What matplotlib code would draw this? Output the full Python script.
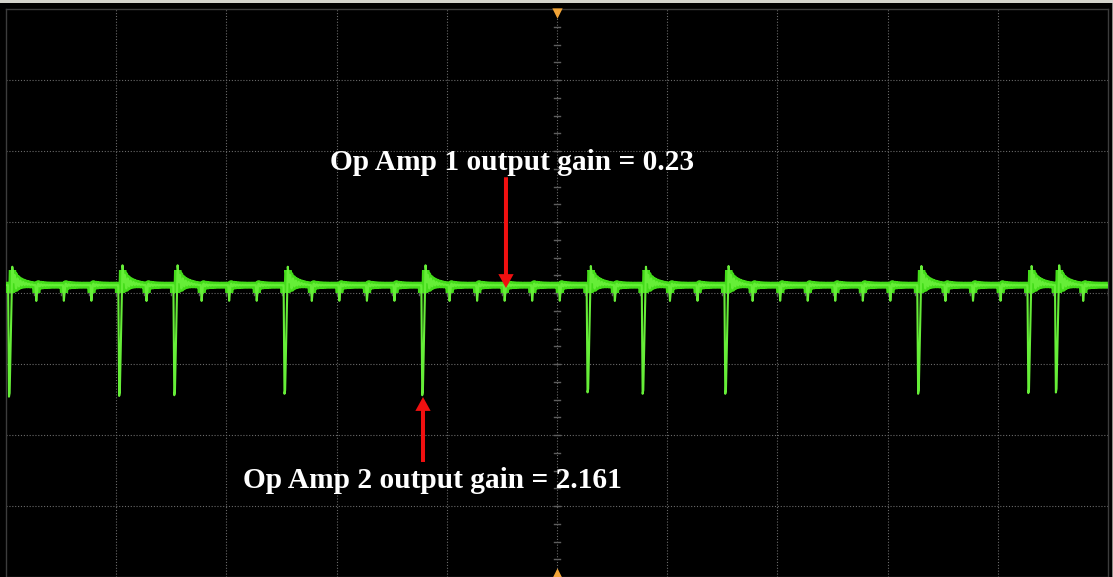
import numpy as np
import matplotlib
matplotlib.use("Agg")
import matplotlib.pyplot as plt
from matplotlib.patches import Rectangle

# Screen geometry in divisions
H_DIVS = 10
V_DIVS = 8

# Switching events along the time axis (horizontal divisions)
event_start = 0.027
event_spacing = 0.25
event_count = 40

# Events that show the deep negative spike, with their floor / overshoot levels (vertical divisions)
large_event_index = [0, 4, 6, 10, 15, 21, 23, 26, 33, 37, 38]
large_event_floor = [-1.46, -1.45, -1.44, -1.42, -1.44, -1.40, -1.42, -1.42, -1.42, -1.41, -1.40]
large_event_peak = [0.37, 0.39, 0.39, 0.37, 0.39, 0.38, 0.37, 0.38, 0.38, 0.38, 0.39]

baseline_level = 0.11
small_dip_level = -0.11

label_texts = ["Op Amp 1 output gain = 0.23", "Op Amp 2 output gain = 2.161"]
label_pos = [(2.94, 1.73), (2.15, -2.75)]
arrow_tail = [(4.537, 1.63), (3.784, -2.38)]
arrow_tip = [(4.537, 0.07), (3.784, -1.465)]

W, H = 1113, 577
fig = plt.figure(figsize=(W / 100, H / 100), dpi=100, facecolor="black")

# screen frame strip along the top edge
fig.patches.append(Rectangle((0, 1 - 3 / H), 1, 3 / H, transform=fig.transFigure,
                             facecolor="#d4d4cc", edgecolor="none", zorder=0))
fig.patches.append(Rectangle((1 - 1.5 / W, 0), 1.5 / W, 1 - 3 / H, transform=fig.transFigure,
                             facecolor="#8a8a84", edgecolor="none", zorder=0))

ax = fig.add_axes([6 / W, 0, 1102 / W, 568 / H], facecolor="black")
ax.set_xlim(0, H_DIVS)
ax.set_ylim(-V_DIVS / 2, V_DIVS / 2)
for s in ax.spines.values():
    s.set_color("#3c3c3c")
    s.set_linewidth(1.0)
ax.set_xticks([])
ax.set_yticks([])

# graticule
grid_kw = dict(color="#6a6a6a", lw=0.8, linestyle=(0, (1, 1.6)), zorder=1)
for xv in range(1, H_DIVS):
    ax.axvline(xv, **grid_kw)
for yv in range(-V_DIVS // 2 + 1, V_DIVS // 2):
    ax.axhline(yv, **grid_kw)

# minor ticks on the centre cross
cx, cy = H_DIVS / 2, 0.0
for m in np.arange(-V_DIVS / 2, V_DIVS / 2 + 1e-9, 0.25):
    ax.plot([cx - 0.025, cx + 0.025], [m, m], color="#5e5e5e", lw=1.0, zorder=1)
for m in np.arange(0, H_DIVS + 1e-9, 0.25):
    ax.plot([m, m], [cy - 0.035, cy + 0.035], color="#5e5e5e", lw=1.0, zorder=1)

# trigger position markers
ax.scatter([cx], [V_DIVS / 2 - 0.05], marker="v", s=55, color="#f2a437", clip_on=False, zorder=5, linewidths=0)
ax.scatter([cx], [-V_DIVS / 2 + 0.05], marker="^", s=55, color="#f2a437", clip_on=False, zorder=5, linewidths=0)

# build the trace from the event list
t = np.linspace(0, H_DIVS, 40001)
kt, kv = [0.0], [baseline_level]
ring_t, ring_a = [], []
large_lookup = {idx: (fl, pk) for idx, fl, pk in zip(large_event_index, large_event_floor, large_event_peak)}
for k in range(event_count):
    tk = event_start + k * event_spacing
    if k in large_lookup:
        fl, pk = large_lookup[k]
        pts = [(tk - 0.008, baseline_level), (tk, fl), (tk + 0.006, fl + 0.05),
               (tk + 0.03, pk), (tk + 0.045, baseline_level + 0.04)]
        ring_t.append(tk + 0.045)
        ring_a.append(0.12)
    else:
        pts = [(tk - 0.01, baseline_level), (tk - 0.002, small_dip_level),
               (tk + 0.01, baseline_level)]
        ring_t.append(tk + 0.01)
        ring_a.append(0.025)
    for p in pts:
        if 0 <= p[0] <= H_DIVS:
            kt.append(p[0])
            kv.append(p[1])
kt.append(H_DIVS)
kv.append(baseline_level)
order = np.argsort(kt)
trace = np.interp(t, np.array(kt)[order], np.array(kv)[order])
for t0, a in zip(ring_t, ring_a):
    d = t - t0
    m = (d > 0) & (d < 0.3)
    trace[m] += a * np.exp(-d[m] / 0.05) * np.sin(2 * np.pi * d[m] / 0.026)

# thick band around the baseline gives the trace its persistence width
band, = ax.plot(t, trace, color="#44dc1a", lw=5.0, solid_capstyle="butt", zorder=3)
band.set_clip_path(Rectangle((0, 0.0), H_DIVS, 0.32, transform=ax.transData))
ax.plot(t, trace, color="#66ee38", lw=1.5, zorder=4)

# annotations
for (tx, ty), txt in zip(label_pos, label_texts):
    ax.text(tx, ty, txt, color="white", fontsize=21.2, fontweight="bold",
            family=["Liberation Serif", "DejaVu Serif"], ha="left", va="baseline", zorder=6)
for tail, tip in zip(arrow_tail, arrow_tip):
    ax.annotate("", xy=tip, xytext=tail,
                arrowprops=dict(facecolor="#f01010", edgecolor="none", width=2.9,
                                headwidth=11, headlength=10, shrink=0),
                zorder=6)

fig.savefig("out.png", dpi=100, facecolor="black")
